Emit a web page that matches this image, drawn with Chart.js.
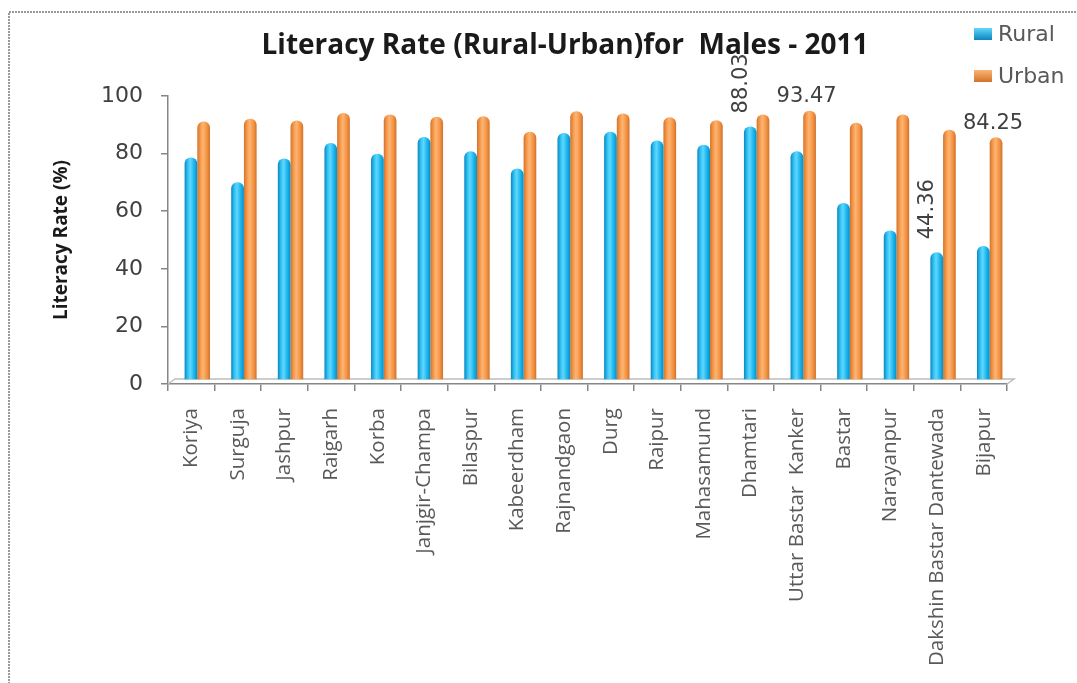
<!DOCTYPE html>
<html>
<head>
<meta charset="utf-8">
<script src="https://cdn.jsdelivr.net/npm/chart.js@4.4.1/dist/chart.umd.min.js"></script>
<style>
  html, body { margin: 0; padding: 0; background: #ffffff; }
  #wrap { width: 1077px; height: 683px; position: relative; }
  canvas { display: block; }
</style>
</head>
<body>
<div id="wrap"><canvas id="c" width="1077" height="683"></canvas></div>
<script>
// ---- data ----
const districts = ["Koriya", "Surguja", "Jashpur", "Raigarh", "Korba", "Janjgir-Champa", "Bilaspur", "Kabeerdham", "Rajnandgaon", "Durg", "Raipur", "Mahasamund", "Dhamtari", "Uttar Bastar  Kanker", "Bastar", "Narayanpur", "Dakshin Bastar Dantewada", "Bijapur"];
const ruralValues = [77.3, 68.7, 76.9, 82.3, 78.6, 84.4, 79.4, 73.4, 85.8, 86.2, 83.2, 81.7, 88.03, 79.4, 61.5, 51.9, 44.36, 46.5];
const urbanValues = [89.8, 90.7, 90.1, 92.7, 92.2, 91.4, 91.6, 86.2, 93.3, 92.5, 91.2, 90.2, 92.2, 93.47, 89.3, 92.2, 86.9, 84.25];
const yTicks = [0, 20, 40, 60, 80, 100];
const seriesNames = ["Rural", "Urban"];
const chartTitle = "Literacy Rate (Rural-Urban)for  Males - 2011";
const yAxisTitle = "Literacy Rate (%)";
// value labels shown in the original: [seriesIndex, categoryIndex, rotated]
const shownLabels = [[0, 12, true], [1, 13, false], [0, 16, true], [1, 17, false]];

// ---- styling ----
const CAT_PCT = 0.545;
const DEPTH_X = 6;   // 3D back-plane offset
const DEPTH_Y = 4;
const palettes = [
  { base: "#00b0f0", stops: ["#0a86bd", "#2fc2f5", "#62d6fb", "#19b6ee", "#0a8cc2"] },
  { base: "#f79646", stops: ["#d2732b", "#f79a4c", "#fbb574", "#f59443", "#d0722c"] }
];

function cylinderFill(ctx) {
  const chart = ctx.chart;
  const pal = palettes[ctx.datasetIndex];
  const xs = chart.scales && chart.scales.x;
  if (!xs || !chart.chartArea || ctx.dataIndex === undefined) return pal.base;
  const cat = xs.width / districts.length;
  const bw = cat * CAT_PCT / 2;
  const cx = xs.getPixelForValue(ctx.dataIndex) + (ctx.datasetIndex === 0 ? -bw / 2 : bw / 2) + DEPTH_X;
  const g = chart.ctx.createLinearGradient(cx - bw / 2, 0, cx + bw / 2, 0);
  g.addColorStop(0, pal.stops[0]);
  g.addColorStop(0.25, pal.stops[1]);
  g.addColorStop(0.45, pal.stops[2]);
  g.addColorStop(0.75, pal.stops[3]);
  g.addColorStop(1, pal.stops[4]);
  return g;
}

const decor = {
  id: "decor",
  beforeDraw(chart) {
    const c = chart.ctx;
    c.save();
    c.fillStyle = "#ffffff";
    c.fillRect(0, 0, chart.width, chart.height);
    c.strokeStyle = "#9a9a9a";
    c.lineWidth = 2;
    c.setLineDash([2, 1]);
    c.strokeRect(9, 12, chart.width + 20, chart.height + 20);
    c.setLineDash([]);
    c.restore();
  },
  beforeDatasetsDraw(chart) {
    const c = chart.ctx, a = chart.chartArea;
    c.save();
    c.strokeStyle = "#bdbdbd";
    c.lineWidth = 1.5;
    c.beginPath();
    c.moveTo(a.left, a.bottom);
    c.lineTo(a.left + DEPTH_X + 1, a.bottom - DEPTH_Y - 1);
    c.lineTo(a.right + DEPTH_X + 1, a.bottom - DEPTH_Y - 1);
    c.lineTo(a.right, a.bottom);
    c.stroke();
    c.restore();
  },
  afterDatasetsUpdate(chart) {
    chart.data.datasets.forEach((ds, i) => {
      chart.getDatasetMeta(i).data.forEach(el => {
        el.x += DEPTH_X;
        el.y -= DEPTH_Y;
        el.base -= DEPTH_Y;
      });
    });
  },
  afterDraw(chart) {
    const c = chart.ctx;
    c.save();
    c.fillStyle = "#1a1a1a";
    c.font = "bold 28px 'Open Sans'";
    c.textAlign = "center";
    c.textBaseline = "middle";
    c.fillText(chartTitle, 565, 46);
    c.font = "22px 'DejaVu Sans'";
    c.textAlign = "left";
    seriesNames.forEach((name, i) => {
      const y = 34 + i * 42;
      const g = c.createLinearGradient(0, y - 6, 0, y + 6);
      g.addColorStop(0, palettes[i].stops[2]);
      g.addColorStop(1, palettes[i].stops[0]);
      c.fillStyle = g;
      c.fillRect(974, y - 6, 18, 12);
      c.fillStyle = "#595959";
      c.fillText(name, 998, y + 1);
    });
    c.fillStyle = "#404040";
    c.font = "21px 'DejaVu Sans'";
    shownLabels.forEach(([s, idx, rot]) => {
      const el = chart.getDatasetMeta(s).data[idx];
      const val = chart.data.datasets[s].data[idx].toFixed(2);
      if (rot) {
        c.save();
        c.translate(el.x - 9, el.y - 13);
        c.rotate(-Math.PI / 2);
        c.textAlign = "left";
        c.textBaseline = "middle";
        c.fillText(val, 0, 0);
        c.restore();
      } else {
        c.textAlign = "center";
        c.textBaseline = "middle";
        c.fillText(val, el.x - 3, el.y - 14);
      }
    });
    c.restore();
  }
};

new Chart(document.getElementById("c"), {
  type: "bar",
  data: {
    labels: districts,
    datasets: [
      { label: seriesNames[0], data: ruralValues, backgroundColor: cylinderFill,
        borderRadius: { topLeft: 6, topRight: 6 }, borderSkipped: "bottom" },
      { label: seriesNames[1], data: urbanValues, backgroundColor: cylinderFill,
        borderRadius: { topLeft: 6, topRight: 6 }, borderSkipped: "bottom" }
    ]
  },
  options: {
    responsive: false,
    animation: false,
    devicePixelRatio: 1,
    layout: { padding: { left: 0, top: 96, right: 70, bottom: 0 } },
    datasets: { bar: { categoryPercentage: CAT_PCT, barPercentage: 1.0 } },
    plugins: { legend: { display: false }, title: { display: false }, tooltip: { enabled: false } },
    scales: {
      x: {
        grid: { display: true, drawOnChartArea: false, drawTicks: true, tickLength: 7, color: "#868686", lineWidth: 1.5, offset: true },
        border: { display: true, color: "#868686", width: 1.5 },
        ticks: {
          autoSkip: false, minRotation: 90, maxRotation: 90, padding: 17,
          color: "#595959", font: { family: "'Open Sans'", size: 20.5 }
        },
        afterFit(scale) { scale.height = 683 - 384; }
      },
      y: {
        min: 0, max: 100,
        afterBuildTicks(scale) { scale.ticks = yTicks.map(v => ({ value: v })); },
        grid: { display: true, drawOnChartArea: false, drawTicks: true, tickLength: 7, color: "#868686", lineWidth: 1.5 },
        border: { display: true, color: "#868686", width: 1.5 },
        ticks: { padding: 18, color: "#404040", font: { family: "'DejaVu Sans'", size: 22 } },
        title: { display: true, text: yAxisTitle, color: "#1a1a1a", font: { family: "'Open Sans'", size: 19, weight: "bold" }, padding: { top: 50, bottom: 0 } },
        afterFit(scale) { scale.width = 168; }
      }
    }
  },
  plugins: [decor]
});
</script>
</body>
</html>
